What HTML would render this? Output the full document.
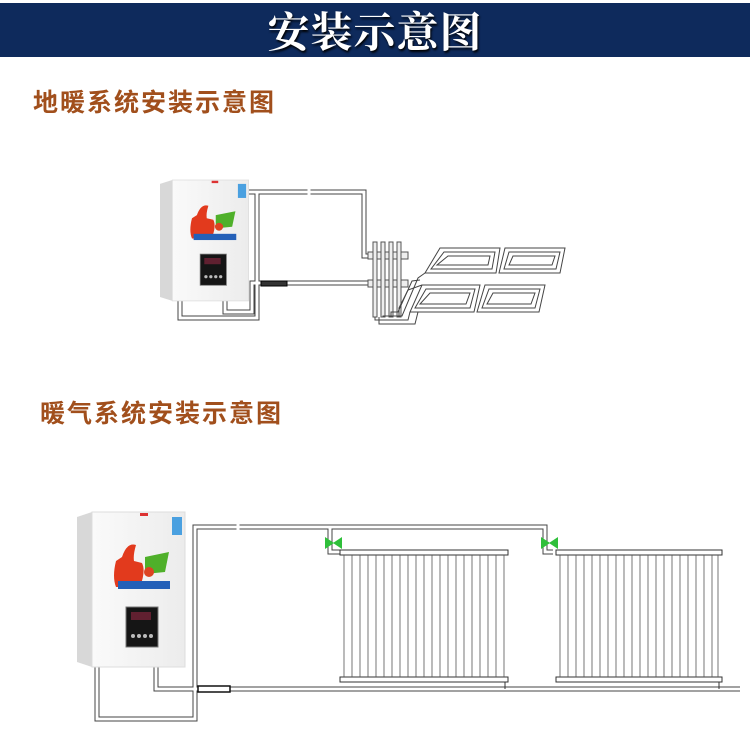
<!DOCTYPE html>
<html><head><meta charset="utf-8"><style>
html,body{margin:0;padding:0;background:#fff;}
body{width:750px;height:755px;overflow:hidden;position:relative;font-family:"Liberation Serif","Noto Serif CJK SC",serif;}
.band{position:absolute;left:0;top:3px;width:750px;height:54px;background:#0e2a5c;}
.title{position:absolute;left:0;top:4px;width:750px;text-align:center;color:#fff;font-size:42px;font-weight:bold;line-height:52px;font-family:"Noto Serif CJK SC",serif;text-shadow:1px 2px 2px #000;letter-spacing:1px;}
.sub{position:absolute;color:#a14f1c;font-size:25px;font-weight:bold;font-family:"Liberation Sans","Noto Sans CJK SC",sans-serif;letter-spacing:2px;}
svg{position:absolute;left:0;top:0;}
</style></head><body>
<div class="band"></div>
<div class="title">安装示意图</div>
<div class="sub" style="left:33px;top:83px;">地暖系统安装示意图</div>
<div class="sub" style="left:40px;top:394px;">暖气系统安装示意图</div>
<svg width="750" height="755" viewBox="0 0 750 755">
<defs>
<linearGradient id="bg" x1="0" x2="1"><stop offset="0" stop-color="#fafafa"/><stop offset="1" stop-color="#ececec"/></linearGradient>
<g id="boiler">
  <polygon points="0,5 15,0 15,155 0,150" fill="#d8d8d8"/>
  <rect x="15" y="0" width="93" height="155" fill="url(#bg)" stroke="#ddd"/>
  <rect x="95" y="5" width="10" height="18" fill="#4aa0e0"/>
  <rect x="63" y="1" width="8" height="3" fill="#d33"/>
  <path d="M45,45 q5,-15 14,-12 q-3,10 -2,16 l8,2 q4,8 -2,24 l-24,0 q-4,-10 0,-26z" fill="#e23a1d"/>
  <polygon points="68,45 92,40 88,60 68,62" fill="#4fb02a"/>
  <circle cx="72" cy="60" r="5" fill="#d42"/>
  <rect x="41" y="69" width="52" height="8" fill="#2460b8"/>
  <rect x="49" y="95" width="32" height="40" fill="#151515" stroke="#777"/>
  <rect x="54" y="100" width="20" height="8" fill="#602030"/>
  <g fill="#bbb"><circle cx="56" cy="124" r="2"/><circle cx="62" cy="124" r="2"/><circle cx="68" cy="124" r="2"/><circle cx="74" cy="124" r="2"/></g>
</g>
</defs>
<g fill="none" stroke-linejoin="miter">
 <g stroke="#444" stroke-width="5">
  <polyline points="248,192 257,192 257,318 180,318 180,300"/>
  <polyline points="225,300 225,312 252,312 252,283 370,283"/>
  <polyline points="257,192 364,192 364,256 370,256"/>
 </g>
 <g stroke="#fff" stroke-width="3">
  <polyline points="248,192 257,192 257,318 180,318 180,300"/>
  <polyline points="225,300 225,312 252,312 252,283 370,283"/>
  <polyline points="257,192 364,192 364,256 370,256"/>
 </g>
 <line x1="309" y1="188" x2="309" y2="196" stroke="#fff" stroke-width="3"/>
 <rect x="261" y="281" width="26" height="5" fill="#333" stroke="#000"/>
 <g stroke="#555" stroke-width="1" fill="#eee">
  <rect x="368" y="252" width="40" height="7"/>
  <rect x="368" y="280" width="40" height="7"/>
  <rect x="373" y="242" width="4" height="75"/><rect x="381" y="242" width="4" height="75"/>
  <rect x="389" y="242" width="4" height="75"/><rect x="397" y="242" width="4" height="75"/>
 </g>
 <g stroke="#444" stroke-width="1">
  <polygon points="440,248 500,248 496,273 425,273"/>
  <polygon points="444,252 495,252 492,269 431,269"/>
  <polygon points="448,256 490,256 488,265 437,265"/>
  <polygon points="505,248 565,248 560,273 499,273"/>
  <polygon points="509,252 560,252 556,269 504,269"/>
  <polygon points="513,256 555,256 552,265 509,265"/>
  <polygon points="422,285 480,285 474,312 410,312"/>
  <polygon points="426,289 475,289 470,308 415,308"/>
  <polygon points="430,293 470,293 466,304 420,304"/>
  <polygon points="485,285 545,285 539,312 477,312"/>
  <polygon points="489,289 540,289 535,308 482,308"/>
  <polygon points="493,293 535,293 531,304 487,304"/>
  <polyline points="375,317 375,320 408,320 410,312"/>
  <polyline points="383,317 383,316 402,316 418,278 425,273"/>
  <polyline points="391,317 391,312 398,312 412,281 420,280"/>
  <polyline points="399,317 399,308 408,290 422,285"/>
  <polyline points="379,317 379,324 415,324 418,312"/>
 </g>
</g>
<use href="#boiler" transform="translate(160,180) scale(0.82,0.78)"/>

<g fill="none">
 <g stroke="#444" stroke-width="5">
  <polyline points="97,667 97,719 195,719 195,527 545,527 545,552 553,552"/>
  <polyline points="156,667 156,689 740,689"/>
  <polyline points="330,527 330,552 340,552"/>
 </g>
 <g stroke="#fff" stroke-width="3">
  <polyline points="97,667 97,719 195,719 195,527 545,527 545,552 553,552"/>
  <polyline points="156,667 156,689 740,689"/>
  <polyline points="330,527 330,552 340,552"/>
 </g>
 <line x1="238" y1="522" x2="238" y2="532" stroke="#fff" stroke-width="3"/>
 <rect x="198" y="686" width="32" height="6" fill="#fff" stroke="#111" stroke-width="1.5"/>
 <g fill="#2fbf3a">
  <polygon points="325,537 334,543 325,549"/><polygon points="342,537 333,543 342,549"/>
  <polygon points="541,537 550,543 541,549"/><polygon points="558,537 549,543 558,549"/>
 </g>
 <g stroke="#333" stroke-width="1">
  <rect x="340" y="550" width="168" height="5" fill="#fff"/>
  <rect x="340" y="677" width="168" height="5" fill="#fff"/>
  <rect x="556" y="550" width="166" height="5" fill="#fff"/>
  <rect x="556" y="677" width="166" height="5" fill="#fff"/>
  <polyline points="505,682 505,689"/><polyline points="719,682 719,689"/>
 </g>
 <g stroke="#555" stroke-width="0.8">
  <path d="M344,555V677M352,555V677M360,555V677M368,555V677M376,555V677M384,555V677M392,555V677M400,555V677M408,555V677M416,555V677M424,555V677M432,555V677M440,555V677M448,555V677M456,555V677M464,555V677M472,555V677M480,555V677M488,555V677M496,555V677M504,555V677"/>
  <path d="M560,555V677M568,555V677M576,555V677M584,555V677M592,555V677M600,555V677M608,555V677M616,555V677M624,555V677M632,555V677M640,555V677M648,555V677M656,555V677M664,555V677M672,555V677M680,555V677M688,555V677M696,555V677M704,555V677M712,555V677M718,555V677"/>
 </g>
</g>
<use href="#boiler" transform="translate(77,512)"/>
</svg>
</body></html>
